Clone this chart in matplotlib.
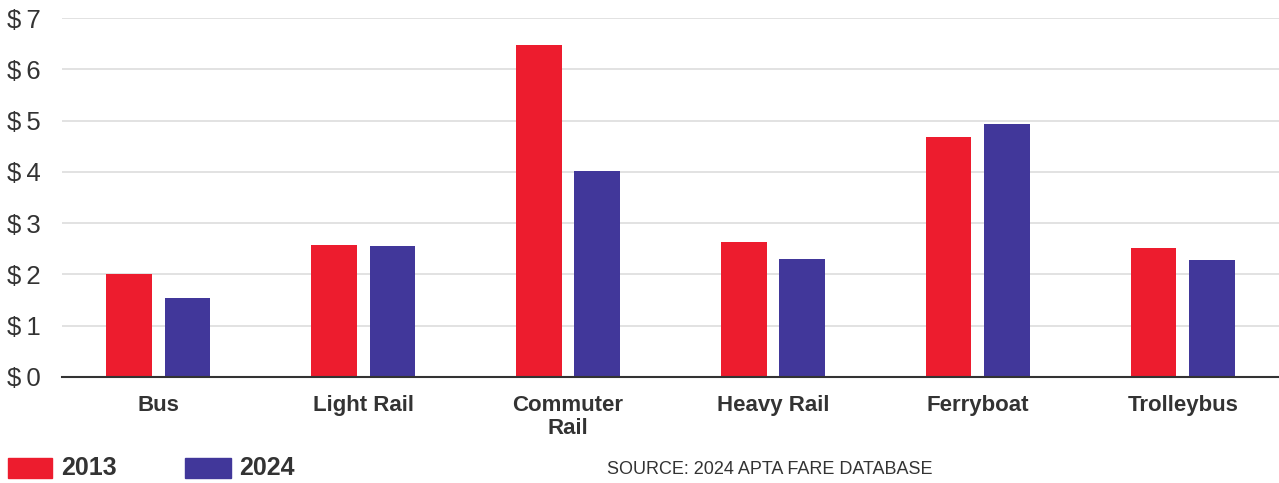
import matplotlib.pyplot as plt
from matplotlib.patches import Rectangle
import numpy as np

categories = ["Bus", "Light Rail", "Commuter\nRail", "Heavy Rail", "Ferryboat", "Trolleybus"]
fare_2013 = [2.01, 2.58, 6.47, 2.64, 4.68, 2.52]
fare_2024 = [1.55, 2.55, 4.01, 2.31, 4.94, 2.29]
yticks = [0, 1, 2, 3, 4, 5, 6, 7]

red = "#ED1C2E"
purple = "#41379A"
text_col = "#333333"

plt.rcParams['font.family'] = ['Liberation Sans', 'DejaVu Sans']

fig = plt.figure(figsize=(12.79, 4.83), dpi=100)
ax = fig.add_axes([62 / 1279, 106 / 483, 1 - 62 / 1279, 359 / 483])

x = np.arange(len(categories))
w = 0.222
ax.bar(x - 0.142, fare_2013, w, color=red, zorder=3)
ax.bar(x + 0.142, fare_2024, w, color=purple, zorder=3)

ax.set_ylim(0, 7)
ax.set_xlim(-0.47, 5.47)
ax.set_yticks(yticks)
ax.set_yticklabels([f"$\u2009{v}" for v in yticks], fontsize=18.5, color=text_col)
ax.set_xticks(x)
ax.set_xticklabels(categories, fontsize=16, fontweight="bold", color=text_col,
                   linespacing=1.1, va="top")
ax.tick_params(axis="both", length=0)
ax.tick_params(axis="x", pad=13)
for lbl in ax.get_yticklabels():
    lbl.set_horizontalalignment("left")
    lbl.set_x(-62 / 1217 + 7 / 1217)
ax.yaxis.set_tick_params(pad=0)

ax.grid(axis="y", color="#dddddd", linewidth=1.2, zorder=0)
for s in ["top", "right", "left"]:
    ax.spines[s].set_visible(False)
ax.spines["bottom"].set_color(text_col)
ax.spines["bottom"].set_linewidth(1.5)
ax.spines["bottom"].set_zorder(4)

# legend
W, H = 1279, 483
fig.patches.append(Rectangle((8 / W, (H - 478) / H), 44 / W, 20 / H,
                             transform=fig.transFigure, color=red, figure=fig))
fig.text(61 / W, (H - 468) / H, "2013", fontsize=18, fontweight="bold",
         color=text_col, va="center")
fig.patches.append(Rectangle((185 / W, (H - 478) / H), 46 / W, 20 / H,
                             transform=fig.transFigure, color=purple, figure=fig))
fig.text(239 / W, (H - 468) / H, "2024", fontsize=18, fontweight="bold",
         color=text_col, va="center")
fig.text(607 / W, (H - 469) / H, "SOURCE: 2024 APTA FARE DATABASE", fontsize=13,
         color=text_col, va="center")

fig.savefig("out.png", dpi=100)
